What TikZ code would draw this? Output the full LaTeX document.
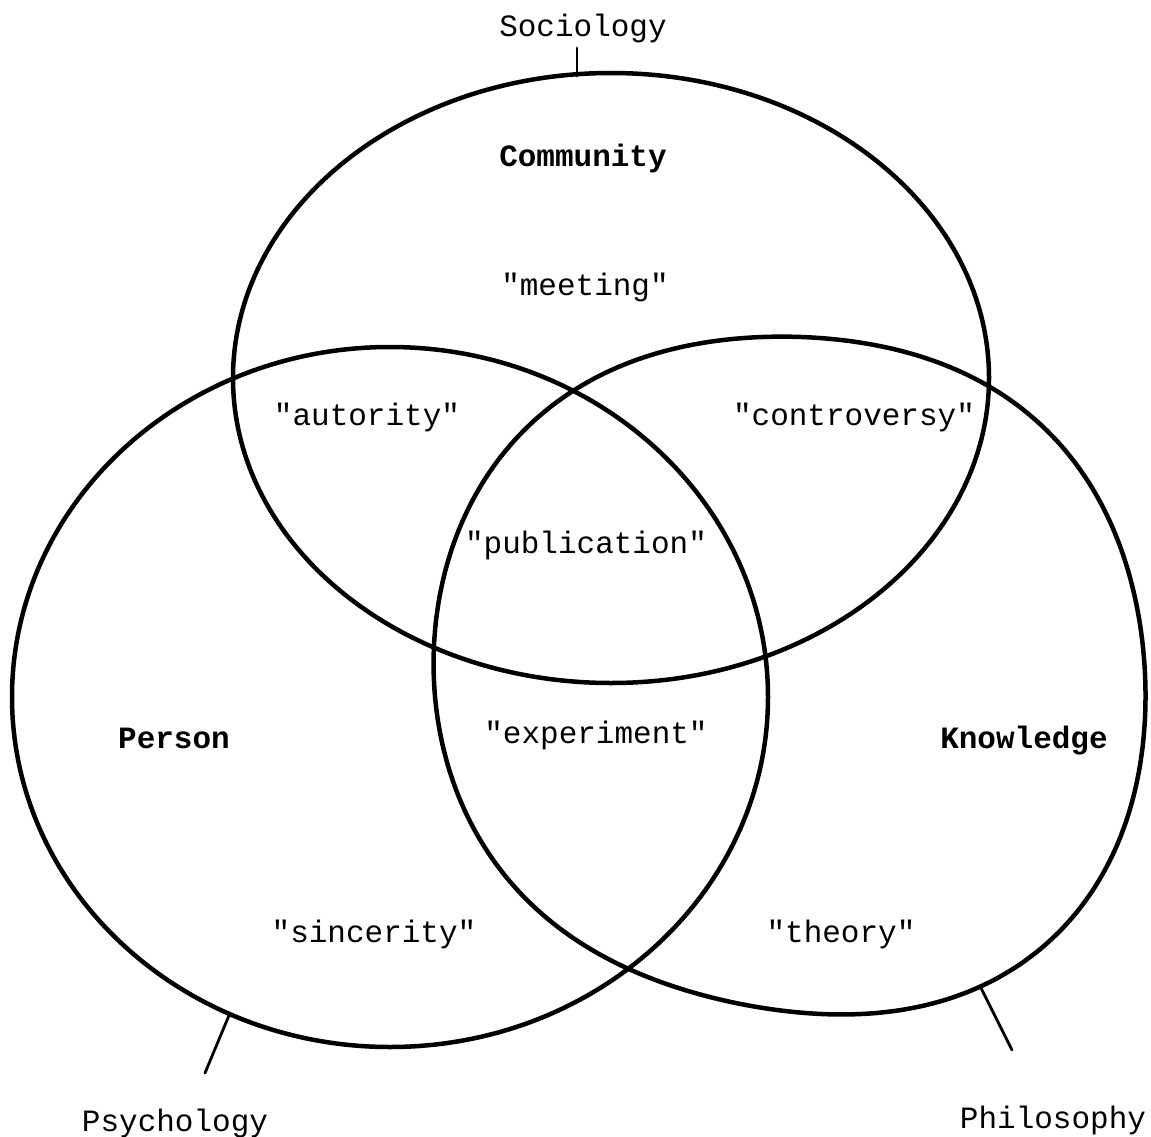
\documentclass[tikz,border=0pt]{standalone}
\usepackage{fontspec}
\setmonofont{Liberation Mono}
\begin{document}
\begin{tikzpicture}[x=1pt,y=-1pt,
  declare function={
    % radius of the hand-drawn Knowledge ring as a function of angle
    kr(\t)=352.1+3.37*cos(\t)+4.81*sin(\t)+9.08*cos(2*\t)+8.52*sin(2*\t)
           -4.17*cos(3*\t)+0.67*sin(3*\t)-5.58*cos(4*\t)-1.01*sin(4*\t);
  },
  ring/.style={line width=4.5pt,line join=round,line cap=round},
  tick/.style={line width=2.8pt,line cap=round},
  word/.style={font=\fontsize{31}{31}\selectfont\ttfamily,inner sep=0pt,anchor=base},
  field/.style={word,font=\fontsize{31}{31}\selectfont\ttfamily\bfseries}]
\useasboundingbox (0,0) rectangle (1151,1137);

% the three overlapping fields
\draw[ring] (611,378) ellipse [x radius=378pt,y radius=305pt];
\draw[ring] (390,697) ellipse [x radius=378pt,y radius=350pt];
\draw[ring,variable=\t] plot[domain=0:356,samples=90,smooth cycle]
  ({790+kr(\t)*cos(\t)},{670+kr(\t)*sin(\t)});

% feet of the discipline ticks on the rings, and their free ends
\coordinate (socFoot) at (577,76);
\coordinate (socEnd)  at (577,48);
\coordinate (psyFoot) at (230,1013);
\coordinate (psyEnd)  at (205,1073);
\coordinate (phiFoot) at (981,988);
\coordinate (phiEnd)  at (1012,1050);

% labels
\node[word]  (sociology)  at (583,37)   {Sociology};
\node[field] (community)  at (583,167)  {Community};
\node[word]  (meeting)    at (585,295)  {"meeting"};
\node[word]  (autority)   at (367,425)  {"autority"};
\node[word]  (controv)    at (854,425)  {"controversy"};
\node[word]  (publication) at (586,553) {"publication"};
\node[field] (person)     at (174,748)  {Person};
\node[word]  (experiment) at (596,743)  {"experiment"};
\node[field] (knowledge)  at (1024,748) {Knowledge};
\node[word]  (sincerity)  at (374,942)  {"sincerity"};
\node[word]  (theory)     at (841,942)  {"theory"};
\node[word]  (psychology) at (175,1131) {Psychology};
\node[word]  (philosophy) at (1053,1128) {Philosophy};

% ticks joining each discipline to its ring
\draw[tick] (socFoot) -- (socEnd);
\draw[tick] (psyFoot) -- (psyEnd);
\draw[tick] (phiFoot) -- (phiEnd);
\end{tikzpicture}
\end{document}
